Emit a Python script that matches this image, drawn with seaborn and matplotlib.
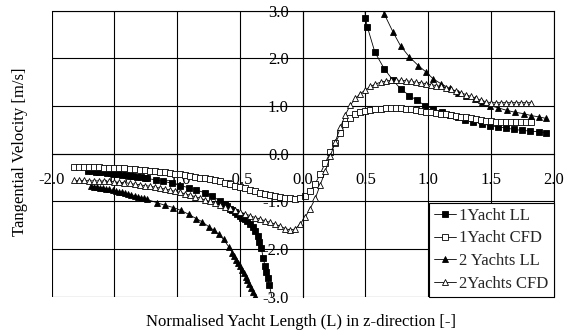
import matplotlib
matplotlib.use("Agg")
import matplotlib.pyplot as plt
import seaborn as sns
import pandas as pd

# ---------------- data ----------------
x_cfd = [-1.82, -1.78, -1.74, -1.70, -1.66, -1.62, -1.58, -1.54, -1.50, -1.46,
         -1.42, -1.38, -1.34, -1.30, -1.26, -1.22, -1.18, -1.14, -1.10, -1.06,
         -1.02, -0.98, -0.94, -0.90, -0.86, -0.82, -0.78, -0.74, -0.70, -0.66,
         -0.62, -0.58, -0.54, -0.50, -0.46, -0.42, -0.38, -0.34, -0.30, -0.26,
         -0.22, -0.18, -0.14, -0.10, -0.06, -0.02,
         0.02, 0.06, 0.10, 0.14, 0.18, 0.22, 0.26, 0.30, 0.34, 0.38,
         0.42, 0.46, 0.50, 0.54, 0.58, 0.62, 0.66, 0.70, 0.74, 0.78,
         0.82, 0.86, 0.90, 0.94, 0.98, 1.02, 1.06, 1.10, 1.14, 1.18,
         1.22, 1.26, 1.30, 1.34, 1.38, 1.42, 1.46, 1.50, 1.54, 1.58,
         1.62, 1.66, 1.70, 1.74, 1.78, 1.82]

y_1yacht_cfd = [-0.27, -0.27, -0.27, -0.28, -0.28, -0.28, -0.29, -0.29, -0.30, -0.30,
                -0.31, -0.32, -0.33, -0.34, -0.35, -0.36, -0.37, -0.38, -0.39, -0.41,
                -0.42, -0.43, -0.45, -0.46, -0.48, -0.50, -0.52, -0.54, -0.56, -0.58,
                -0.61, -0.64, -0.67, -0.70, -0.73, -0.76, -0.79, -0.82, -0.85, -0.87,
                -0.89, -0.91, -0.93, -0.94, -0.95, -0.93,
                -0.89, -0.78, -0.63, -0.42, -0.19, 0.03, 0.22, 0.44, 0.62, 0.75,
                0.83, 0.87, 0.90, 0.92, 0.93, 0.94, 0.95, 0.95, 0.95, 0.95,
                0.94, 0.93, 0.92, 0.90, 0.88, 0.87, 0.85, 0.84, 0.83, 0.81,
                0.80, 0.78, 0.76, 0.74, 0.72, 0.70, 0.69, 0.68, 0.67, 0.67,
                0.67, 0.67, 0.67, 0.67, 0.67, 0.67]

y_2yachts_cfd = [-0.56, -0.56, -0.56, -0.57, -0.57, -0.57, -0.58, -0.58, -0.59, -0.60,
                 -0.61, -0.62, -0.64, -0.65, -0.67, -0.68, -0.70, -0.72, -0.74, -0.76,
                 -0.79, -0.81, -0.84, -0.87, -0.90, -0.93, -0.97, -1.00, -1.04, -1.07,
                 -1.11, -1.14, -1.18, -1.22, -1.26, -1.30, -1.34, -1.37, -1.41, -1.44,
                 -1.48, -1.52, -1.57, -1.60, -1.58, -1.47,
                 -1.33, -1.15, -0.94, -0.65, -0.37, -0.05, 0.25, 0.55, 0.82, 1.02,
                 1.16, 1.26, 1.34, 1.41, 1.46, 1.50, 1.52, 1.54, 1.54, 1.54,
                 1.53, 1.52, 1.50, 1.49, 1.47, 1.45, 1.43, 1.41, 1.38, 1.35,
                 1.32, 1.28, 1.24, 1.20, 1.16, 1.12, 1.09, 1.07, 1.07, 1.07,
                 1.07, 1.07, 1.07, 1.07, 1.07, 1.07]

# 1 Yacht LL (two branches either side of the singularity)
x_1yacht_ll_a = [-1.71, -1.68, -1.65, -1.62, -1.59, -1.56, -1.53, -1.50, -1.47, -1.44,
                 -1.41, -1.38, -1.35, -1.32, -1.29, -1.26, -1.24, -1.17, -1.11, -1.04,
                 -0.98, -0.91, -0.85, -0.78, -0.72, -0.66, -0.62, -0.60, -0.58, -0.56,
                 -0.54, -0.52, -0.50, -0.48, -0.46, -0.44, -0.42, -0.40, -0.38, -0.36,
                 -0.345, -0.33, -0.315, -0.30, -0.29, -0.28, -0.265, -0.235]
y_1yacht_ll_a = [-0.36, -0.37, -0.38, -0.38, -0.39, -0.40, -0.41, -0.42, -0.43, -0.44,
                 -0.45, -0.46, -0.47, -0.48, -0.49, -0.50, -0.52, -0.55, -0.58, -0.62,
                 -0.67, -0.71, -0.76, -0.82, -0.89, -0.99, -1.06, -1.10, -1.15, -1.19,
                 -1.23, -1.27, -1.31, -1.35, -1.38, -1.42, -1.47, -1.53, -1.62, -1.73,
                 -1.85, -1.98, -2.18, -2.36, -2.48, -2.60, -2.76, -3.15]
x_1yacht_ll_b = [0.49, 0.50, 0.515, 0.575, 0.65, 0.72, 0.78, 0.85, 0.91, 0.975,
                 1.04, 1.11, 1.17, 1.24, 1.29, 1.36, 1.43, 1.49, 1.56, 1.62,
                 1.68, 1.745, 1.81, 1.88, 1.94]
y_1yacht_ll_b = [3.30, 2.85, 2.66, 2.13, 1.78, 1.54, 1.36, 1.22, 1.12, 1.01,
                 0.94, 0.87, 0.81, 0.77, 0.71, 0.67, 0.63, 0.59, 0.56, 0.54,
                 0.51, 0.49, 0.475, 0.46, 0.44]

# 2 Yachts LL
x_2yachts_ll_a = [-1.69, -1.665, -1.64, -1.615, -1.59, -1.565, -1.54, -1.515, -1.49, -1.465,
                  -1.44, -1.415, -1.39, -1.365, -1.34, -1.315, -1.29, -1.265, -1.24,
                  -1.16, -1.10, -1.03, -0.97, -0.91, -0.85, -0.80, -0.75, -0.71, -0.67,
                  -0.63, -0.59,
                  -0.56, -0.545, -0.53, -0.515, -0.50, -0.485, -0.47, -0.455, -0.44,
                  -0.425, -0.41, -0.395, -0.38]
y_2yachts_ll_a = [-0.68, -0.69, -0.70, -0.71, -0.72, -0.74, -0.75, -0.77, -0.78, -0.80,
                  -0.81, -0.83, -0.85, -0.86, -0.88, -0.90, -0.92, -0.94, -0.96,
                  -1.03, -1.08, -1.13, -1.19, -1.27, -1.36, -1.43, -1.53, -1.60, -1.69,
                  -1.80, -1.95,
                  -2.08, -2.15, -2.22, -2.29, -2.36, -2.43, -2.51, -2.58, -2.66,
                  -2.74, -2.82, -2.90, -2.98]
x_2yachts_ll_b = [0.62, 0.65, 0.72, 0.78, 0.85, 0.92, 0.98, 1.04, 1.10, 1.17,
                  1.235, 1.30, 1.37, 1.43, 1.49, 1.56, 1.625, 1.69, 1.76, 1.82,
                  1.885, 1.94]
y_2yachts_ll_b = [3.30, 2.93, 2.55, 2.26, 2.03, 1.85, 1.72, 1.57, 1.47, 1.37,
                  1.28, 1.20, 1.14, 1.09, 1.01, 0.96, 0.91, 0.87, 0.84, 0.80,
                  0.77, 0.74]

series_labels = ["1Yacht LL", "1Yacht CFD", "2 Yachts LL", "2Yachts CFD"]
xticks = [-2.0, -1.5, -1.0, -0.5, 0.0, 0.5, 1.0, 1.5, 2.0]
xtick_labels = ["-2.0", "-1.5", "-1.0", "-0.5", "0.0", "0.5", "1.0", "1.5", "2.0"]
yticks = [-3.0, -2.0, -1.0, 0.0, 1.0, 2.0, 3.0]
ytick_labels = ["-3.0", "-2.0", "-1.0", "0.0", "1.0", "2.0", "3.0"]
x_label = "Normalised Yacht Length (L) in z-direction [-]"
y_label = "Tangential Velocity [m/s]"

# ---------------- style ----------------
sns.set_theme(style="white")
plt.rcParams["font.family"] = ["Liberation Serif", "DejaVu Serif"]
plt.rcParams["axes.unicode_minus"] = False
plt.rcParams["font.size"] = 12

fig = plt.figure(figsize=(5.72, 3.36), dpi=100)
ax = fig.add_axes([0.0904, 0.117, 0.8776, 0.8512])
ax.set_facecolor("white")

styles = {
    "1Yacht LL": dict(marker="s", markersize=4.3, markerfacecolor="black"),
    "1Yacht CFD": dict(marker="s", markersize=3.8, markerfacecolor="white"),
    "2 Yachts LL": dict(marker="^", markersize=5.0, markerfacecolor="black"),
    "2Yachts CFD": dict(marker="^", markersize=4.6, markerfacecolor="white"),
}

branches = [
    ("1Yacht LL", x_1yacht_ll_a, y_1yacht_ll_a),
    ("1Yacht LL", x_1yacht_ll_b, y_1yacht_ll_b),
    ("1Yacht CFD", x_cfd, y_1yacht_cfd),
    ("2 Yachts LL", x_2yachts_ll_a, y_2yachts_ll_a),
    ("2 Yachts LL", x_2yachts_ll_b, y_2yachts_ll_b),
    ("2Yachts CFD", x_cfd, y_2yachts_cfd),
]

handles = {}
for name, xs, ys in branches:
    df = pd.DataFrame({"x": xs, "y": ys})
    sns.lineplot(data=df, x="x", y="y", ax=ax, estimator=None, sort=False,
                 color="black", linewidth=0.6, markeredgecolor="black",
                 markeredgewidth=0.6, legend=False, **styles[name])
    if name not in handles:
        handles[name] = ax.lines[-1]

ax.set_xlim(-2.0, 2.0)
ax.set_ylim(-3.0, 3.0)
ax.set_xticks(xticks)
ax.set_xticklabels(xtick_labels)
ax.set_yticks(yticks)
ax.set_yticklabels(ytick_labels)
ax.set_xlabel("")
ax.set_ylabel("")

ax.set_axisbelow(True)
ax.grid(True, color="black", linewidth=0.8)

ax.spines["left"].set_position(("data", 0))
ax.spines["bottom"].set_position(("data", 0))
for s in ax.spines.values():
    s.set_color("black")
    s.set_linewidth(0.8)
    s.set_visible(True)

ax.tick_params(axis="x", length=0, pad=13.5, labelsize=12, colors="black")
ax.tick_params(axis="y", length=0, pad=10, labelsize=12, colors="black")

leg = ax.legend(handles=[handles[n] for n in series_labels], labels=series_labels,
                loc="lower right", bbox_to_anchor=(1.0, 0.0), borderaxespad=0.0,
                frameon=True, fancybox=False, edgecolor="black", framealpha=1.0,
                handlelength=1.3, handletextpad=0.2, borderpad=0.3,
                labelspacing=0.4, fontsize=12)
leg.get_frame().set_linewidth(0.8)

fig.text(20 / 572, 1 - 152 / 336, y_label, rotation=90, ha="center", va="center",
         fontsize=12, color="black")
fig.text(301.5 / 572, 1 - 322 / 336, x_label, ha="center", va="center",
         fontsize=12, color="black")

fig.savefig("out.png", dpi=100)
